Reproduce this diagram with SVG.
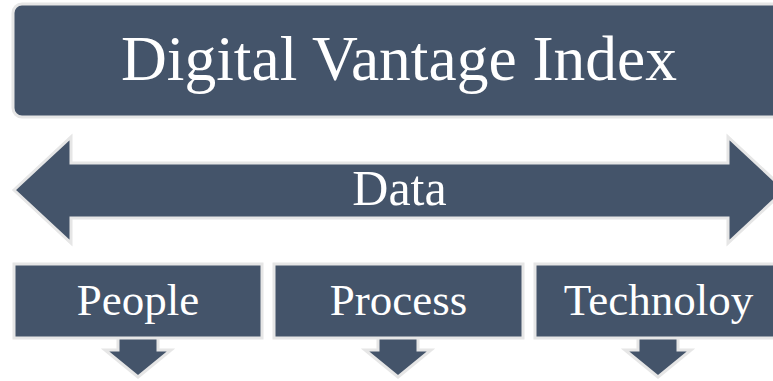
<svg xmlns="http://www.w3.org/2000/svg" width="773" height="381" viewBox="0 0 773 381">
<style>
.s{fill:#44546A;stroke:#E6E6E6;stroke-width:3;stroke-linejoin:miter}
.t{fill:#FFFFFF;font-family:"Liberation Serif","Times New Roman",serif;text-anchor:middle}
</style>
<rect x="0" y="0" width="773" height="381" fill="#FFFFFF"/>
<g id="title">
<rect class="s" x="13" y="4" width="772" height="113" rx="9"/>
<text class="t" x="399" y="80" font-size="63.5">Digital Vantage Index</text>
</g>
<g id="data">
<polygon class="s" points="14,190 71,137 71,163 728,163 728,137 785,190 728,243 728,218 71,218 71,243"/>
<text class="t" x="399.5" y="205" font-size="50">Data</text>
</g>
<g id="connectors">
<polygon class="s" points="118,336 158,336 158,350 171,350 138,377 105,350 118,350"/>
<polygon class="s" points="378,336 418,336 418,350 431,350 398,377 365,350 378,350"/>
<polygon class="s" points="638,336 678,336 678,350 691,350 658,377 625,350 638,350"/>
</g>
<g id="people">
<rect class="s" x="14" y="264" width="248" height="74"/>
<text class="t" x="138" y="315" font-size="45">People</text>
</g>
<g id="process">
<rect class="s" x="274" y="264" width="249" height="74"/>
<text class="t" x="398.5" y="315" font-size="45">Process</text>
</g>
<g id="technology">
<rect class="s" x="535" y="264" width="247" height="74"/>
<text class="t" x="658.5" y="315" font-size="45">Technoloy</text>
</g>
</svg>
